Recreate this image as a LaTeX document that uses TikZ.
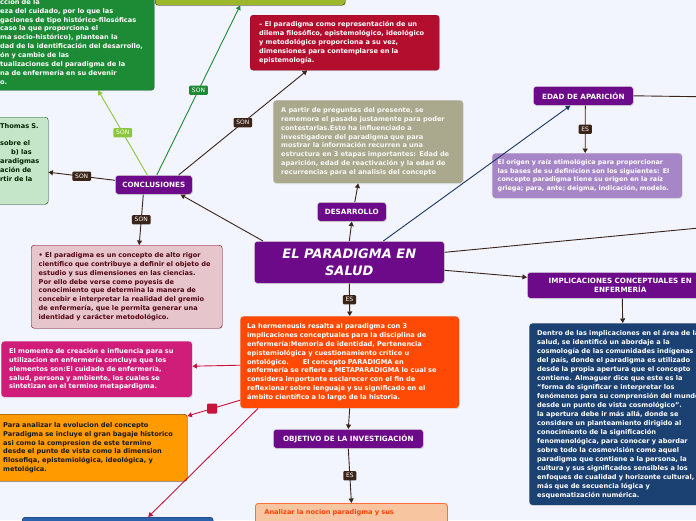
\documentclass[tikz,border=0pt]{standalone}
\usepackage{fontspec}
\setmainfont{DejaVu Sans}
\usetikzlibrary{arrows.meta,shadows}
\hyphenpenalty=10000

\definecolor{bgcol}{HTML}{F2F5FD}
\definecolor{mmpurple}{HTML}{6C0A89}
\definecolor{mmbrown}{HTML}{3B2418}
\definecolor{mmcrimson}{HTML}{C8143A}
\definecolor{tlgreen}{HTML}{1D8A36}
\definecolor{limegreen}{HTML}{8CC63F}
\definecolor{olivebox}{HTML}{9CB72B}
\definecolor{redbox}{HTML}{B30E2E}
\definecolor{khakibox}{HTML}{ABA98D}
\definecolor{palegreen}{HTML}{C6E6C9}
\definecolor{pinkbox}{HTML}{E7C5CC}
\definecolor{magentabox}{HTML}{D11D7A}
\definecolor{orangebox}{HTML}{FF4A05}
\definecolor{amberbox}{HTML}{FF9A00}
\definecolor{lavbox}{HTML}{A686C6}
\definecolor{navybox}{HTML}{1B4173}
\definecolor{peachbox}{HTML}{F7C6A1}
\definecolor{bluebox}{HTML}{2B62AE}
\definecolor{navyline}{HTML}{1A3565}

\begin{document}
\begin{tikzpicture}[x=1pt, y=-1pt, >={Triangle[length=4.5pt,width=5pt]},
  note/.style={rectangle, rounded corners=3pt, anchor=north west, align=left,
    font=\fontsize{6.6}{8.9}\selectfont\bfseries,
    drop shadow={opacity=0.2, shadow xshift=0.5pt, shadow yshift=-0.8pt}},
  topic/.style={note, fill=mmpurple, draw=white!70!gray, line width=0.6pt,
    text=white, align=center, inner sep=0pt, font=\fontsize{7.2}{9}\selectfont\bfseries},
  tag/.style={rectangle, rounded corners=1pt, fill=mmbrown, text=white,
    font=\fontsize{6}{6.5}\selectfont, inner xsep=2.8pt, inner ysep=2.3pt},
  mmlink/.style={draw=mmbrown, line width=0.9pt},
  redlink/.style={draw=mmcrimson, line width=0.9pt}]
  \useasboundingbox (0,0) rectangle (696,520);
  \clip (0,0) rectangle (696,520);
  \fill[bgcol] (0,0) rectangle (696,520);

  % centro
  \node[topic, minimum width=190pt, minimum height=42pt,
    font=\fontsize{13}{17}\selectfont\bfseries\itshape] (main) at (254,241) {EL PARADIGMA EN\\SALUD};

  % conclusiones
  \node[topic, minimum width=77pt, minimum height=19pt] (conc) at (115,175) {CONCLUSIONES};
  \node[note, fill=tlgreen, draw=tlgreen!70!black, text=white, text width=150pt,
    inner xsep=4pt, minimum height=97pt] (tlg) at (-4,-7)
    {cción de la\\eza del cuidado, por lo que las\\gaciones de tipo histórico-filosóficas\\ caso la que proporciona el\\ma socio-histórico), plantean la\\dad de la identificación del desarrollo,\\ón y cambio de las\\tualizaciones del paradigma de la\\na de enfermería en su devenir\\o.};
  \node[note, fill=olivebox, draw=mmbrown, minimum width=190pt, minimum height=45pt] (olive) at (155,-40) {};
  \node[note, fill=redbox, draw=redbox!80!black, text=white, text width=171pt,
    inner xsep=9pt, minimum height=55pt] (red) at (250,15)
    {-- El paradigma como representación de un\\dilema filosófico, epistemológico, ideológico\\y metodológico proporciona a su vez,\\dimensiones para contemplarse en la\\epistemología.};
  \node[note, fill=palegreen, draw=tlgreen!60!black, text=black!85!green, text width=44pt,
    inner xsep=4pt, minimum height=87pt] (pale) at (-4,117)
    {Thomas S.\\[8.9pt]sobre el\\\hspace*{11pt}b) las\\aradigmas\\ación de\\rtir de la\\[8pt]\mbox{}};
  \node[note, fill=pinkbox, draw=redbox!70!black, text=redbox!45!black, text width=176pt,
    inner xsep=7.5pt, minimum height=83pt] (pink) at (31,245)
    {• El paradigma es un concepto de alto rigor\\científico que contribuye a definir el objeto de\\estudio y sus dimensiones en las ciencias.\\Por ello debe verse como poyesis de\\conocimiento que determina la manera de\\concebir e interpretar la realidad del gremio\\de enfermería, que le permita generar una\\identidad y carácter metodológico.};

  % desarrollo
  \node[topic, minimum width=69pt, minimum height=19pt] (des) at (317,202) {DESARROLLO};
  \node[note, fill=khakibox, draw=white!80!gray, text=white!92!khakibox, text width=174pt,
    inner xsep=8pt, minimum height=83pt] (khaki) at (273,100)
    {A partir de preguntas del presente, se\\rememora el pasado justamente para poder\\contestarlas.Esto ha influenciado a\\investigadore del paradigma que para\\mostrar la información recurren a una\\estructura en 3 etapas importantes: Edad de\\aparición, edad de reactivación y la edad de\\recurrencias para el analisis del concepto};

  % edad de aparicion
  \node[topic, minimum width=100pt, minimum height=19pt] (edad) at (533,86) {EDAD DE APARICIÓN};
  \node[note, fill=lavbox, draw=white!80!gray, text=white, text width=179pt,
    inner xsep=5.5pt, minimum height=45pt, font=\fontsize{6.4}{8.8}\selectfont\bfseries] (lav) at (492,153)
    {El origen y raíz etimológica para proporcionar\\las bases de su definicion son los siguientes: El\\concepto paradigma tiene su origen en la raíz\\griega; para, ante; deigma, indicación, modelo.};

  % implicaciones
  \node[topic, minimum width=186pt, minimum height=26pt] (impl) at (527,272) {IMPLICACIONES CONCEPTUALES EN\\ENFERMERÍA};
  \node[note, fill=navybox, draw=white!80!gray, text=white, text width=184pt,
    inner xsep=8pt, minimum height=182pt, font=\fontsize{6.6}{9}\selectfont\bfseries] (navy) at (529,323)
    {Dentro de las implicaciones en el área de la\\salud, se identificó un abordaje a la\\cosmología de las comunidades indígenas\\del país, donde el paradigma es utilizado\\desde la propia apertura que el concepto\\contiene. Almaguer dice que este es la\\“forma de significar e interpretar los\\fenómenos para su comprensión del mundo\\desde un punto de vista cosmológico”.\\la apertura debe ir más allá, donde se\\considere un planteamiento dirigido al\\conocimiento de la significación\\fenomenológica, para conocer y abordar\\sobre todo la cosmovisión como aquel\\paradigma que contiene a la persona, la\\cultura y sus significados sensibles a los\\enfoques de cualidad y horizonte cultural,\\más que de secuencia lógica y\\esquematización numérica.};

  % hermeneusis
  \node[note, fill=orangebox, draw=white!80!gray, text=white, text width=205pt,
    inner xsep=7pt, minimum height=92pt] (orange) at (240,316)
    {La hermeneusis resalta al paradigma con 3\\implicaciones conceptuales para la disciplina de\\enfermería:Memoria de identidad, Pertenencia\\epistemiológica y cuestionamiento crítico u\\ontológico.\hspace*{14pt}El concepto PARADIGMA en\\enfermería se refiere a METAPARADIGMA lo cual se\\considera importante esclarecer con el fin de\\reflexionar sobre lenguaje y su significado en el\\ámbito científico a lo largo de la historia.};
  \node[topic, minimum width=150pt, minimum height=19pt] (obj) at (273,429) {OBJETIVO DE LA INVESTIGACIÓN};
  \node[note, fill=peachbox, draw=orangebox!80!white, line width=0.8pt, text=orangebox!85!red,
    text width=174pt, inner xsep=9pt, inner ysep=6pt, minimum height=57pt, align=left] (peach) at (255,503)
    {Analizar la nocion paradigma y sus\\[40pt]\mbox{}};
  \node[note, fill=magentabox, draw=white!80!gray, text=white, text width=175pt,
    inner xsep=8pt, minimum height=56pt] (magenta) at (1,341)
    {El momento de creación e influencia para su\\utilizacion en enfermería concluye que los\\elementos son:El cuidado de enfermería,\\salud, persona y ambiente, los cuales se\\sintetizan en el termino metapardigma.};
  \node[note, fill=amberbox, draw=mmbrown, text=black!90, text width=176pt,
    inner xsep=8pt, minimum height=67pt] (amber) at (-5,414)
    {Para analizar la evolucion del concepto\\Paradigma se incluye el gran bagaje historico\\asi como la compresion de este termino\\desde el punto de vista como la dimension\\filosofiqa, epistemiológica, ideológica, y\\metológica.};
  \node[note, fill=bluebox, draw=navybox!70!black, minimum width=191pt, minimum height=50pt] (blue) at (22,517) {};

  % salidas fuera del cuadro
  \coordinate (edadout) at (720,97);
  \coordinate (mainout) at (720,226);

  % conectores
  \draw[mmlink, ->] ([xshift=9pt]main.north west) -- ([xshift=-12pt]conc.south east);
  \draw[draw=limegreen, line width=0.9pt, ->] ([xshift=-6.5pt]conc.north)
    -- node[tag, fill=limegreen] {SON} ([xshift=23pt]tlg.south);
  \draw[draw=tlgreen, line width=0.9pt, ->] ([xshift=3pt]conc.north)
    -- node[tag, fill=tlgreen] {SON} ([xshift=-10pt]olive.south);
  \draw[mmlink, ->] ([xshift=-14pt]conc.north east) -- node[tag] {SON} ([xshift=-37.5pt]red.south);
  \draw[mmlink, ->] ([yshift=4.5pt]conc.west) -- node[tag] {SON} ([yshift=-11.5pt]pale.east);
  \draw[mmlink, ->] ([xshift=-10.5pt]conc.south) -- node[tag] {SON} ([xshift=12.5pt]pink.north);

  \draw[mmlink, ->] (main.north) -- (des.south);
  \draw[mmlink, ->] ([xshift=3pt]des.north) -- ([xshift=-10pt]khaki.south);

  \draw[draw=navyline, line width=0.9pt, ->] ([xshift=34pt]main.north) -- ([xshift=-13pt]edad.south);
  \draw[mmlink] (edad.east) -- (edadout);
  \draw[mmlink, ->] ([xshift=2pt]edad.south) -- node[tag] {ES} ([xshift=-2pt]lav.north);

  \draw[mmlink] ([yshift=10pt]main.east) -- (mainout);
  \draw[mmlink, ->] ([yshift=-8pt]main.east) -- ([yshift=8pt]impl.west);
  \draw[mmlink, ->] ([xshift=2pt]impl.south) -- ([xshift=-6.5pt]navy.north);

  \draw[mmlink, ->] (main.south) -- node[tag] {ES} (orange.north);
  \draw[mmlink, ->] (orange.south) -- (obj.north);
  \draw[mmlink, ->] (obj.south) -- node[tag] {ES} (peach.north);

  \draw[redlink, ->] ([yshift=-3pt]orange.west) -- ([yshift=3pt]magenta.east);
  \draw[redlink, ->] ([yshift=-38pt]orange.west)
    -- node[pos=0.53, fill=mmcrimson, minimum size=10pt, inner sep=0pt, rounded corners=1pt] (sq) {}
    ([yshift=-2pt]amber.north east);
  \draw[redlink, ->] ([xshift=18pt]orange.south west) -- ([xshift=30.5pt]blue.north);
\end{tikzpicture}
\end{document}
